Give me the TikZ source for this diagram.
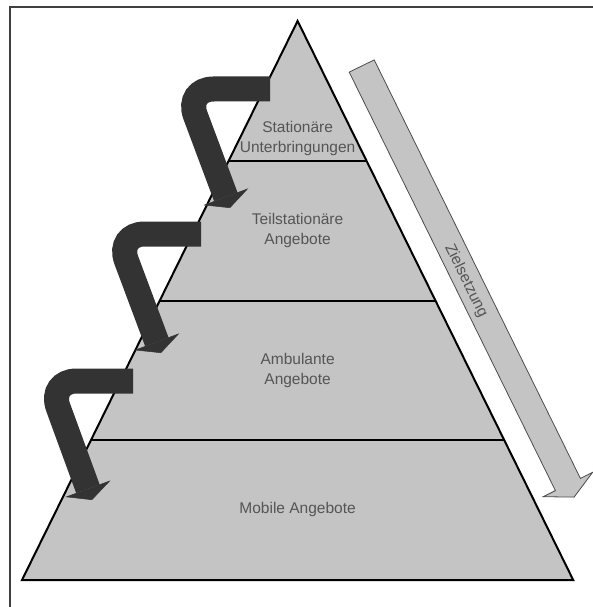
\documentclass[tikz,border=0pt]{standalone}
\usepackage{fontspec}
\setmainfont{Liberation Sans}
\usepackage{xcolor}
\usetikzlibrary{calc}
\usetikzlibrary{arrows.meta}

\definecolor{pyrgrau}{HTML}{C4C4C4}
\definecolor{pfeilgrau}{HTML}{333333}
\definecolor{textgrau}{HTML}{555555}

\begin{document}
\begin{tikzpicture}[x=1pt,y=-1pt]

\tikzset{
    stufe/.style = {
    font=\fontsize{15.5}{19.5}\selectfont,
    text=textgrau,
    align=center
    }
}

\tikzstyle{schritt}=[draw=pfeilgrau, line width=25pt, rounded corners=28pt, -{Triangle[width=48pt,length=12pt,line width=0.5pt]}]
\tikzstyle{linie}=[draw=black, line width=2pt]
\tikzstyle{ziel}=[fill=pyrgrau, draw=black!70, line width=0.8pt, line join=miter]

\useasboundingbox (0,0) rectangle (593,607);

\draw [line width=2pt, draw=black!75] (9.5,607) -- (9.5,7) -- (593,7);

\coordinate (spitze) at (297.6,21);
\coordinate (links) at (22,580);
\coordinate (rechts) at (573.2,580);

\filldraw [fill=pyrgrau, line width=2pt, line join=miter] (spitze) -- (rechts) -- (links) -- cycle;

\draw [linie] ($(spitze)!0.25!(links)$) -- ($(spitze)!0.25!(rechts)$);
\draw [linie] ($(spitze)!0.5!(links)$) -- ($(spitze)!0.5!(rechts)$);
\draw [linie] ($(spitze)!0.75!(links)$) -- ($(spitze)!0.75!(rechts)$);

\node (n-1) [stufe] at (297.6,138.5) {Stationäre\\Unterbringungen};
\node (n-2) [stufe] at (297.6,230.7) {Teilstationäre\\Angebote};
\node (n-3) [stufe] at (297.6,370.4) {Ambulante\\Angebote};
\node (n-4) [stufe] at (297.6,509) {Mobile Angebote};

% Stufenpfeile
\coordinate (a1-start) at (270,89);
\coordinate (a1-knick) at (185.5,89);
\coordinate (a1-ende) at (230,208);
\draw [schritt] (a1-start) -- (a1-knick) -- (a1-ende);

\coordinate (a2-start) at (201,234);
\coordinate (a2-knick) at (116.5,234);
\coordinate (a2-ende) at (161,353);
\draw [schritt] (a2-start) -- (a2-knick) -- (a2-ende);

\coordinate (a3-start) at (133,381);
\coordinate (a3-knick) at (48.5,381);
\coordinate (a3-ende) at (92,500);
\draw [schritt] (a3-start) -- (a3-knick) -- (a3-ende);

\filldraw [ziel] (349.2,72.1) -- (374.2,59.9) -- (580.4,478.4) -- (592.6,472.3) -- (574.1,497.1) -- (543.2,496.7) -- (555.4,490.6) -- cycle;

\node (z) [stufe, rotate=-63.8] at (466,281) {Zielsetzung};

\end{tikzpicture}
\end{document}
